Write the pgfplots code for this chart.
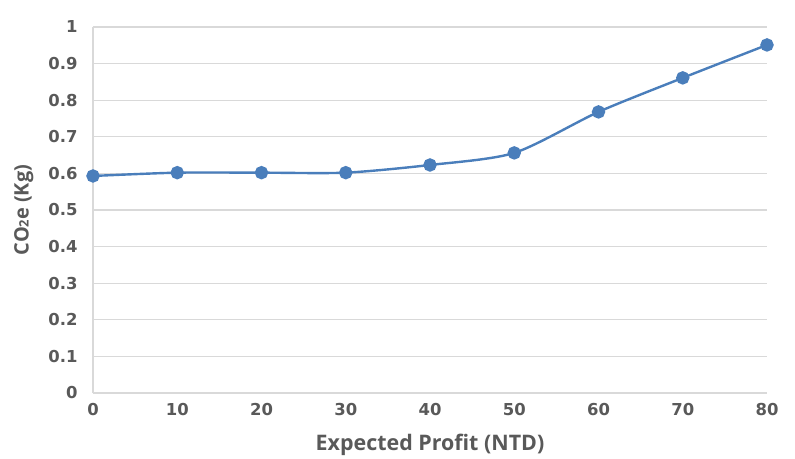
\documentclass[border=0pt]{standalone}
\usepackage{fontspec}
\setmainfont{Open Sans}
\newfontfamily\tickfont{DejaVu Sans}
\usepackage{pgfplots}
\pgfplotsset{compat=1.18}
\definecolor{linecol}{RGB}{74,126,187}
\definecolor{txtcol}{RGB}{89,89,89}
\definecolor{gridcol}{RGB}{217,217,217}
\begin{document}
\begin{tikzpicture}
\begin{axis}[
  name=ax,
  scale only axis,
  width=674bp, height=366bp,
  xmin=0, xmax=80, ymin=0, ymax=1,
  xtick={0,10,...,80},
  ytick={0,0.1,...,1},
  xticklabels={0,10,20,30,40,50,60,70,80},
  yticklabels={0,0.1,0.2,0.3,0.4,0.5,0.6,0.7,0.8,0.9,1},
  ymajorgrids,
  grid style={gridcol, line width=1.2bp},
  axis x line*=bottom,
  axis y line*=left,
  axis line style={gridcol, line width=1.2bp, -},
  major tick length=0pt,
  tick label style={font=\tickfont\fontsize{16.5}{16.5}\selectfont\bfseries, text=txtcol},
  xticklabel style={yshift=-7bp},
  yticklabel style={xshift=-12bp},
  xlabel={Expected Profit (NTD)},
  ylabel={CO{\fontsize{13}{13}\selectfont 2}e (Kg)},
  xlabel style={font=\fontsize{21.5}{21.5}\selectfont\bfseries, text=txtcol, yshift=-11bp},
  ylabel style={font=\fontsize{20}{20}\selectfont\bfseries, text=txtcol, yshift=8bp},
  clip=false,
]
\addplot[linecol, line width=2.4bp, smooth, tension=0.45,
  mark=*, mark size=5.5bp, mark options={fill=linecol, draw=linecol}]
coordinates {
 (0,0.593) (10,0.602) (20,0.602) (30,0.602) (40,0.623)
 (50,0.656) (60,0.768) (70,0.861) (80,0.951)
};
\end{axis}
\pgfresetboundingbox
\path[use as bounding box] ([shift={(-93bp,-66bp)}]ax.south west) rectangle ([shift={(28bp,27bp)}]ax.north east);
\end{tikzpicture}
\end{document}
